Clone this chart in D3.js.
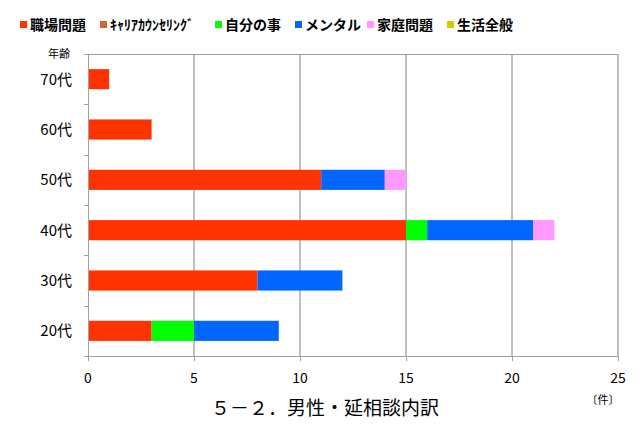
<!DOCTYPE html>
<html>
<head>
<meta charset="utf-8">
<script src="https://cdn.jsdelivr.net/npm/d3@7"></script>
<style>
  body { margin: 0; background: #fff; }
  text { font-family: "Noto Sans CJK JP", "DejaVu Sans", sans-serif; }
</style>
</head>
<body>
<div id="chart"></div>
<script>
// categories (top to bottom) and series
const ages = ["70代", "60代", "50代", "40代", "30代", "20代"]
const seriesNames = ["職場問題", "ｷｬﾘｱｶｳﾝｾﾘﾝｸﾞ", "自分の事", "メンタル", "家庭問題", "生活全般"]
const seriesColors = ["#ff3300", "#cc6633", "#00ff00", "#0066ff", "#ff99ff", "#cccc00"]
const shokuba = [1, 3, 11, 15, 8, 3]
const career = [0, 0, 0, 0, 0, 0]
const jibun = [0, 0, 0, 1, 0, 2]
const mental = [0, 0, 3, 5, 4, 4]
const katei = [0, 0, 1, 1, 0, 0]
const seikatsu = [0, 0, 0, 0, 0, 0]
const xTicks = [0, 5, 10, 15, 20, 25]

const width = 640, height = 443
const margin = {top: 54, right: 22, bottom: 87, left: 88}

const svg = d3.select("#chart").append("svg")
  .attr("width", width).attr("height", height)

// build table for stacking
const values = [shokuba, career, jibun, mental, katei, seikatsu]
const table = ages.map((a, i) => {
  const row = {age: a}
  seriesNames.forEach((s, j) => row[s] = values[j][i])
  return row
})
const stacked = d3.stack().keys(seriesNames)(table)

const x = d3.scaleLinear().domain([0, 25]).range([margin.left, width - margin.right])
const y = d3.scaleBand().domain(ages).range([margin.top, height - margin.bottom]).paddingInner(0.6).paddingOuter(0.3)
const color = d3.scaleOrdinal().domain(seriesNames).range(seriesColors)

// grid lines
svg.append("g")
  .selectAll("line")
  .data(xTicks.slice(1))
  .join("line")
    .attr("x1", d => x(d)).attr("x2", d => x(d))
    .attr("y1", margin.top).attr("y2", height - margin.bottom)
    .attr("stroke", "#808080").attr("stroke-width", 1)

// top border
svg.append("line")
  .attr("x1", margin.left - 4).attr("x2", x(25))
  .attr("y1", margin.top + 0.5).attr("y2", margin.top + 0.5)
  .attr("stroke", "#a0a0a0")

// bars
svg.append("g")
  .selectAll("g")
  .data(stacked)
  .join("g")
    .attr("fill", d => color(d.key))
  .selectAll("rect")
  .data(d => d.filter(v => v[1] > v[0]))
  .join("rect")
    .attr("x", d => x(d[0]))
    .attr("width", d => x(d[1]) - x(d[0]))
    .attr("y", d => y(d.data.age))
    .attr("height", y.bandwidth())

// left axis
const bounds = d3.range(ages.length + 1).map(i => margin.top + i * (height - margin.top - margin.bottom) / ages.length)
svg.append("line")
  .attr("x1", margin.left + 0.5).attr("x2", margin.left + 0.5)
  .attr("y1", margin.top).attr("y2", height - margin.bottom)
  .attr("stroke", "#a0a0a0")
svg.append("g")
  .selectAll("line")
  .data(bounds)
  .join("line")
    .attr("x1", margin.left - 4).attr("x2", margin.left)
    .attr("y1", d => Math.round(d) + 0.5).attr("y2", d => Math.round(d) + 0.5)
    .attr("stroke", "#a0a0a0")
svg.append("g")
  .selectAll("text")
  .data(ages)
  .join("text")
    .attr("x", 72)
    .attr("y", d => y(d) + y.bandwidth() / 2)
    .attr("dy", "0.36em")
    .attr("text-anchor", "end")
    .attr("font-size", 15)
    .attr("fill", "#000")
    .text(d => d)
svg.append("text")
  .attr("x", 70).attr("y", 58)
  .attr("text-anchor", "end")
  .attr("font-size", 11)
  .text("年齢")

// bottom axis
const base = height - margin.bottom
svg.append("line")
  .attr("x1", margin.left - 4).attr("x2", x(25))
  .attr("y1", base + 0.5).attr("y2", base + 0.5)
  .attr("stroke", "#a0a0a0")
svg.append("g")
  .selectAll("line")
  .data(xTicks)
  .join("line")
    .attr("x1", d => x(d) + 0.5).attr("x2", d => x(d) + 0.5)
    .attr("y1", base).attr("y2", base + 5)
    .attr("stroke", "#a0a0a0")
svg.append("g")
  .selectAll("text")
  .data(xTicks)
  .join("text")
    .attr("x", d => x(d))
    .attr("y", base + 27)
    .attr("text-anchor", "middle")
    .attr("font-size", 14)
    .text(d => d)

// title
svg.append("text")
  .attr("x", 325).attr("y", 415)
  .attr("text-anchor", "middle")
  .attr("font-size", 19)
  .text("５－２．男性・延相談内訳")
svg.append("text")
  .attr("x", 603).attr("y", 404)
  .attr("text-anchor", "middle")
  .attr("font-size", 11)
  .text("〔件〕")

// legend
const legendX = [20, 100, 215, 295, 367, 447]
const legend = svg.append("g")
  .selectAll("g")
  .data(seriesNames)
  .join("g")
    .attr("transform", (d, i) => `translate(${legendX[i]},0)`)
legend.append("rect")
  .attr("width", 7).attr("height", 7).attr("y", 21)
  .attr("fill", d => color(d))
legend.append("text")
  .attr("x", 10).attr("y", 30)
  .attr("font-size", 14)
  .attr("font-weight", "bold")
  .text(d => d)
</script>
</body>
</html>
